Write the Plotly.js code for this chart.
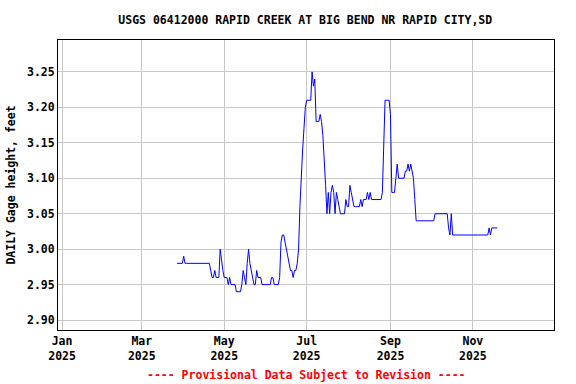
<!DOCTYPE html>
<html>
<head>
<meta charset="utf-8">
<script src="https://cdn.plot.ly/plotly-3.0.1.min.js"></script>
<style>html,body{margin:0;padding:0;background:#fff;}#chart{width:576px;height:384px;}</style>
</head>
<body>
<div id="chart"></div>
<script>
// Daily gage height, feet, starting 2025-03-27 (one value per day)
const startDate = '2025-03-27';
const gageHeight = [
  2.98,2.98,2.98,2.98,2.98, 2.99,
  2.98,2.98,2.98,2.98,2.98,2.98,2.98,2.98,2.98,2.98,2.98,2.98,2.98,2.98,2.98,2.98,2.98,2.98,2.98,
  2.97,2.96,2.96,2.97,2.96,2.96,2.96,3.00,2.98,2.97,2.96,2.96,2.96,2.95,2.96,
  2.95,2.95,2.95,2.95,2.94,2.94,2.94,2.94,2.95,2.97,2.96,2.95,2.98,3.00,2.98,2.97,2.96,2.95,2.95,
  2.97,2.96,2.96,2.96,2.95,2.95,2.95,2.95,2.95,2.95,2.95,2.96,2.96,2.95,2.95,2.95,2.95,2.96,
  3.01,3.02,3.02,3.01,3.00,2.99,2.98,2.97,2.97,2.96,2.97,2.97,2.98,3.00,
  3.06,3.11,3.14,3.17,3.20,3.21,3.21,3.21,3.21,3.25,3.23,3.24,3.18,3.18,3.18,3.19,3.18,3.16,3.13,
  3.09,3.05,3.08,3.05,3.08,3.09,3.08,3.05,3.08,3.07,3.06,3.05,3.05,3.05,3.05,3.07,3.06,3.06,
  3.09,3.08,3.07,3.06,3.06,3.06,3.06,3.06,3.07,3.06,3.07,3.07,3.07,3.08,3.07,3.08,
  3.07,3.07,3.07,3.07,3.07,3.07,3.07,3.07,3.08,3.14,
  3.21,3.21,3.21,3.21,3.19,3.08,3.08,3.08,3.10,3.12,3.10,3.10,3.10,3.10,3.10,
  3.11,3.11,3.12,3.11,3.12,3.11,3.10,3.07,
  3.04,3.04,3.04,3.04,3.04,3.04,3.04,3.04,3.04,3.04,3.04,3.04,3.04,3.04,
  3.05,3.05,3.05,3.05,3.05,3.05,3.05,3.05,3.05,3.05,
  3.03,3.02,3.05,
  3.02,3.02,3.02,3.02,3.02,3.02,3.02,3.02,3.02,3.02,3.02,3.02,3.02,3.02,3.02,3.02,3.02,3.02,3.02,
  3.02,3.02,3.02,3.02,3.02,3.02,3.02,3.02,
  3.03,3.02,3.03,3.03,3.03,3.03,3.03
];
const xTickVals = ['2025-01-01','2025-03-01','2025-05-01','2025-07-01','2025-09-01','2025-11-01'];
const xTickText = ['Jan<br>2025','Mar<br>2025','May<br>2025','Jul<br>2025','Sep<br>2025','Nov<br>2025'];
const yTickVals = [2.90,2.95,3.00,3.05,3.10,3.15,3.20,3.25];
const titleText = 'USGS 06412000 RAPID CREEK AT BIG BEND NR RAPID CITY,SD';
const yTitle = 'DAILY Gage height, feet';
const noteText = '---- Provisional Data Subject to Revision ----';

const FONT = {family: 'DejaVu Sans Mono, monospace', size: 11.5, color: '#000', weight: 'bold'};

const trace = {
  type: 'scatter', mode: 'lines',
  x0: startDate, dx: 86400000,
  y: gageHeight,
  line: {color: '#0000ff', width: 1},
  hoverinfo: 'skip'
};

const layout = {
  width: 576, height: 384,
  margin: {l: 58, r: 22, t: 40, b: 54},
  paper_bgcolor: '#fff', plot_bgcolor: '#fff',
  showlegend: false,
  font: FONT,
  title: {text: titleText, font: FONT, x: 0.53, xanchor: 'center', y: 1 - 20/384, yanchor: 'middle'},
  xaxis: {
    type: 'date', range: ['2024-12-29', '2025-12-31'],
    tickmode: 'array', tickvals: xTickVals, ticktext: xTickText,
    showgrid: true, gridcolor: '#c8c8c8', gridwidth: 1,
    showline: true, linecolor: '#000', linewidth: 1, mirror: true,
    ticks: '', zeroline: false, tickfont: FONT
  },
  yaxis: {
    range: [2.886, 3.295],
    tickmode: 'array', tickvals: yTickVals, tickformat: '.2f',
    showgrid: true, gridcolor: '#c8c8c8', gridwidth: 1,
    showline: true, linecolor: '#000', linewidth: 1, mirror: true,
    ticks: '', zeroline: false, tickfont: FONT,
    title: {text: yTitle, font: FONT, standoff: 8}
  },
  annotations: [{
    text: noteText, xref: 'paper', yref: 'paper', x: 0.5, y: -(375-330)/290,
    xanchor: 'center', yanchor: 'middle', showarrow: false,
    font: {family: 'DejaVu Sans Mono, monospace', size: 11.5, color: '#ff0000', weight: 'bold'}
  }]
};

Plotly.newPlot('chart', [trace], layout, {staticPlot: true, displayModeBar: false});
</script>
</body>
</html>
